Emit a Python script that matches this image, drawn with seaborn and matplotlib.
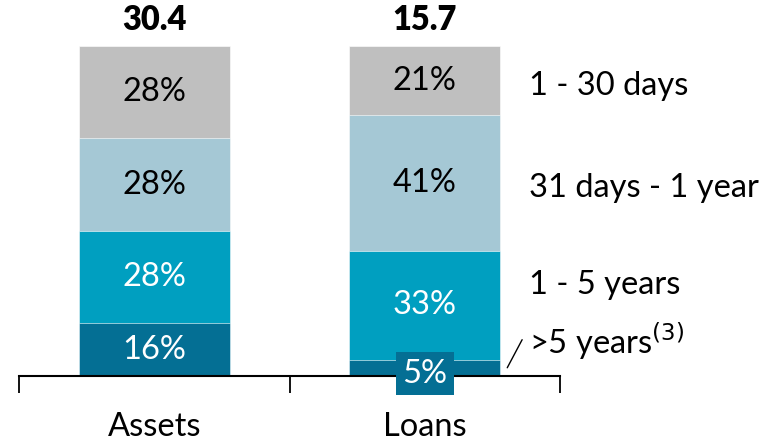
import matplotlib
matplotlib.use("Agg")
import matplotlib.pyplot as plt
import seaborn as sns
import numpy as np
import pandas as pd

categories = ["Assets", "Loans"]
totals = ["30.4", "15.7"]
segments = [">5 years", "1 - 5 years", "31 days - 1 year", "1 - 30 days"]
seg_labels = [">5 years$^{\\mathit{(3)}}$", "1 - 5 years", "31 days - 1 year", "1 - 30 days"]
assets_pct = [16, 28, 28, 28]
loans_pct = [5, 33, 41, 21]
colors = ["#046F94", "#009FC0", "#A5C8D5", "#BFBFBF"]

sns.set_theme(style="white")
plt.rcParams["font.family"] = ["Lato", "DejaVu Sans"]

fig = plt.figure(figsize=(7.79, 4.42), dpi=100)
ax = fig.add_axes([19/779, 1 - 376/442, 541/779, 330/442])

vals = np.array([assets_pct, loans_pct])  # shape 2x4
cum = np.cumsum(vals, axis=1)

# draw from top cumulative down so lower segments overlay
for k in range(3, -1, -1):
    df = pd.DataFrame({"cat": categories, "val": cum[:, k]})
    sns.barplot(data=df, x="cat", y="val", color=colors[k], width=0.557,
                saturation=1, ax=ax, edgecolor="white", linewidth=0.4)

# segment labels
fs = 23.5
for i in range(2):
    for k in range(4):
        v = vals[i, k]
        mid = cum[i, k] - v / 2
        txtcol = "white" if k < 2 else "black"
        if v < 8:
            ax.text(i, mid - 1.8, f"{v}%", ha="center", va="center", color="white",
                    fontsize=fs, bbox=dict(boxstyle="square,pad=0.2", fc=colors[0], ec="none"),
                    clip_on=False, zorder=5)
        else:
            ax.text(i, mid, f"{v}%", ha="center", va="center", color=txtcol, fontsize=fs)
    ax.text(i, 108, totals[i], ha="center", va="center", fontsize=fs, fontweight="heavy",
            color="black", clip_on=False)

# right-side legend labels aligned with Loans segments
label_y = [10.5, 27.5, 57, 88]
for k in range(4):
    ax.text(1.385, label_y[k], seg_labels[k], ha="left", va="center", fontsize=fs,
            color="black", clip_on=False)
ax.plot([1.305, 1.36], [2.5, 11], color="black", lw=1, clip_on=False)

ax.set_xlim(-0.5, 1.5)
ax.set_ylim(0, 100)
ax.set_xlabel("")
ax.set_ylabel("")
ax.set_yticks([])
for s in ["left", "right", "top"]:
    ax.spines[s].set_visible(False)
ax.spines["bottom"].set_color("black")
ax.spines["bottom"].set_linewidth(1.5)
ax.set_xticks([0, 1])
ax.set_xticklabels(categories, fontsize=fs, color="black")
ax.tick_params(axis="x", which="major", length=0, pad=26)
ax.set_xticks([-0.5, 0.5, 1.5], minor=True)
ax.tick_params(axis="x", which="minor", length=12, width=1.3, color="black", direction="out", bottom=True)

fig.savefig("out.png", dpi=100)
